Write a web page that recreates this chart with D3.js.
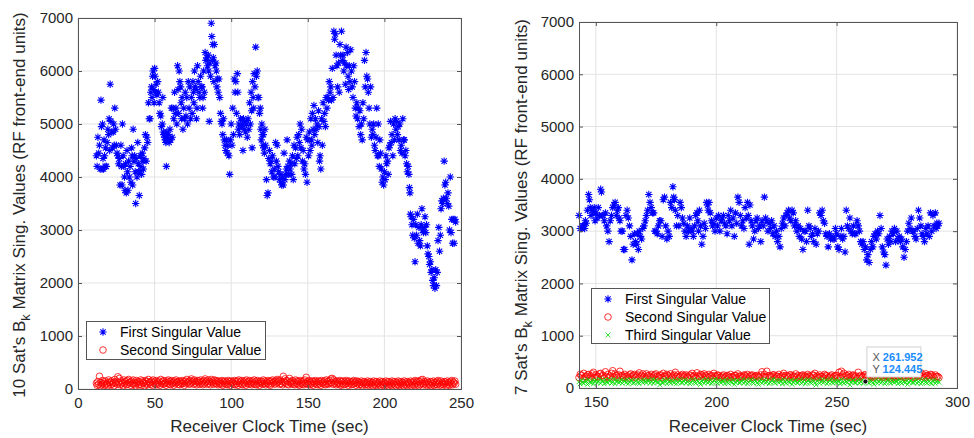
<!DOCTYPE html>
<html>
<head>
<meta charset="utf-8">
<script src="https://cdn.jsdelivr.net/npm/d3@7"></script>
<style>
body { margin: 0; background: #fff; }
text { font-family: "Liberation Sans", Arial, Helvetica, sans-serif; }
</style>
</head>
<body>
<svg id="chart"></svg>
<script>
// Data: each group is [second, value, value, ...]; values are spread across that second
const leftXTicks = [0, 50, 100, 150, 200, 250];
const rightXTicks = [150, 200, 250, 300];
const yTicks = [0, 1000, 2000, 3000, 4000, 5000, 6000, 7000];
const leftLegend = ["First Singular Value", "Second Singular Value"];
const rightLegend = ["First Singular Value", "Second Singular Value", "Third Singular Value"];
const dataTip = { x: 261.952, y: 124.445 };

const leftFirst = [
  [12,4400,4200],[13,4750,4450],[14,4600,4150],[15,5450,4950,4150],[16,5000,4350,4150],[17,4700,4400,4200],
  [18,4550,4200],[19,4650,4900],[20,4800,5100,4500],[21,5750,5050],[22,4850,4550],[23,4850,5000,4600],
  [24,5300,4900],[25,4600,4450],[26,4400,4250],[27,4350,3850],[28,4600,4200,3850],[29,5000,4400],
  [30,4200,4000,3750],[31,4250,3700],[32,4500,4100,3750],[33,4300,4000],[34,4200,3900],[35,4550,4400,3850],
  [36,4900,4300],[37,4400,4100,3500],[38,4350,4000],[39,4650,4250,4100],[40,3650,4100,4400],[41,4200,4050],
  [42,4450,4300,4150],[43,4350,4550],[44,4800,4300],[45,4750,4650],[46,5400,5100],[47,5100,5600],
  [48,5700,5500,5900],[49,6000,5650,5400],[50,6050,5900,5600],[51,5750,5550],[52,5800,5600],[53,5400,5200],
  [54,5150,4950],[55,5000,5500,4850],[56,4800,4750],[57,4700,4650,4200],[58,4850,4750],[59,4800,4650],
  [60,4900,4700],[61,5300,4750],[62,5300,5100],[63,5600,5200],[64,5300,5000],[65,6100,5650,5200],
  [66,6000,5800],[67,5700,5400,5100],[68,5500,4900],[69,5300,5100],[70,5600,5150],[71,5500,5000],
  [72,5800,5300],[73,5700,5100],[74,5500,5200],[75,5800,5600,5400],[76,6000,5700],[77,5650,5100,5300],
  [78,6100,5800],[79,5600,5500],[80,5900,5700],[81,5700,5300,5500],[82,6000,5600],[83,6350,6200],
  [84,6250,6100],[85,6300,6000,5050],[86,6150,5900],[87,6900,6650,6200],[88,6500,6250,5800],[89,6500,6100],
  [90,6150,6000,5700],[91,5850,5600],[92,5850,5500],[93,5200,5050],[94,5000,4800],[95,5100,4700],
  [96,4600,4500],[97,4700,4450],[98,4600,4400],[99,4050,4700],[100,5000,4600],[101,5300,4800],
  [102,5850,5600],[103,5800,5200],[104,5950,5600,4900],[105,5000,4800],[106,5100,4950],[107,4950,5000,4500],
  [108,5100,4900],[109,5050,4850],[110,5000,4750],[111,5100,4900],[112,5400,5000],[113,5600,5250,4550],
  [114,5800,5500,5300],[115,5950,5700],[116,6450,5900],[117,6000,5500],[118,5500,5200],[119,5300,4900,4700],
  [120,5000,4800,4600],[121,4800,4550,4450],[122,4900,4600],[123,3950,3650],[124,3700,4350],[125,4500,4250],
  [126,4300,4100],[127,4400,4000],[128,4150,4000],[129,4650,4300],[130,4600,4200],[131,4100,3950],
  [132,4050,3900],[133,3850,4000],[134,3850,4450],[135,3950,4050],[136,4150,4700],[137,4200,4050],
  [138,4300,4150],[139,4250,4050],[140,4400,3950],[141,4600,4250],[142,4550,4350],[143,4750,4400],
  [144,4800,4650],[145,5000,4550],[146,4900,4300],[147,4500,4150],[148,4250,4050],[149,4750,3900],
  [150,4700,4400],[151,4850,4500],[152,5100,4700,4600],[153,5200,4900],[154,5350,4800],[155,5100,4900],
  [156,5000,4650],[157,5250,4950,4300],[158,4400,4150],[159,5100,4600],[160,5400,5050],[161,5200,4950],
  [162,5500,5300],[163,5500,5450],[164,5800,5600],[165,5700,5450],[166,6050,5500],[167,6750,6600],
  [168,6700,6300],[169,6100,5700],[170,6150,5600],[171,6500,6300],[172,6750,6200],[173,6300,6000],
  [174,6150,5750],[175,6450,6100],[176,6350,5900,5650],[177,6100,5800],[178,6400,6000],[179,5700,5500],
  [180,6100,5800],[181,5300,5150],[182,5400,5100],[183,5300,4950],[184,5250,4800],[185,5000,4700],
  [186,5400,5100],[187,6200,5700],[188,6350,5900],[189,5850,5600],[190,5300,5000],[191,5700,4750],
  [192,4900,4800],[193,5000,4600],[194,4500,4750],[195,5300,4400],[196,5000,4400,4200],[197,4700,4450],
  [198,4150,3900],[199,4000,3850],[200,4100,3950],[201,4400,4250],[202,4300,4050],[203,4550,4600],
  [204,5050,4650],[205,4800,4400],[206,5000,4700],[207,5100,4900],[208,5050,4800],[209,4950,4700],
  [210,5000,4500],[211,4600,4450],[212,5100,4700],[213,4700,4400],[214,4500,4250],[215,4100,4200],
  [216,4050,3800,3700],[217,3300,3250],[218,3100,2900],[219,3200,2850],[220,2400,3100],[221,2900,3300],
  [222,2750,3050],[223,2800,2700],[224,3100,3400],[225,3000,2950],[226,3050,3250],[227,2950,3100],
  [228,2700,2550],[229,2500,2350],[230,2400,2200],[231,2250,2050],[232,1950,2100],[233,1900,2250],
  [234,1950,2200],[235,2800,3050],[236,2600,2900],[237,3400,3550],[238,3500,3600],[239,4300,3850],
  [240,3900,3600],[241,3500,3700],[242,3450,3000],[243,4000,2950],[244,3200,2750],[245,3200,2750],
  [246,3200,3150]
];

const leftSecond = [
  [12,110,70],[13,140,90],[14,240,60],[15,120,80],[16,160,100],[17,130,70],[18,150,90],[19,110,60],
  [20,170,120],[21,130,80],[22,150,100],[23,120,60],[24,180,110],[25,140,90],[26,230,120],[27,200,80],
  [28,150,100],[29,120,60],[30,170,110],[31,140,80],[32,160,90],[33,180,120],[34,130,70],[35,150,100],
  [36,170,90],[37,120,60],[38,160,110],[39,140,80],[40,130,90],[41,170,70],[42,150,110],[43,120,60],
  [44,160,100],[45,140,80],[46,180,120],[47,130,90],[48,150,70],[49,170,110],[50,140,90],[51,160,80],
  [52,130,100],[53,150,70],[54,180,110],[55,140,90],[56,160,100],[57,120,70],[58,150,110],[59,170,90],
  [60,140,80],[61,160,110],[62,130,70],[63,150,100],[64,170,120],[65,140,90],[66,150,80],[67,130,100],
  [68,160,110],[69,140,70],[70,150,100],[71,180,120],[72,140,90],[73,160,100],[74,190,130],[75,150,90],
  [76,170,110],[77,140,80],[78,160,120],[79,150,90],[80,170,110],[81,140,80],[82,160,100],[83,190,130],
  [84,150,90],[85,170,110],[86,140,80],[87,180,120],[88,150,90],[89,170,110],[90,160,100],[91,140,80],
  [92,150,100],[93,130,90],[94,160,70],[95,140,110],[96,150,90],[97,130,80],[98,160,100],[99,140,70],
  [100,150,110],[101,130,90],[102,160,80],[103,140,100],[104,150,70],[105,170,110],[106,140,90],[107,160,80],
  [108,130,100],[109,150,70],[110,170,110],[111,140,90],[112,160,100],[113,130,80],[114,150,110],[115,170,90],
  [116,140,80],[117,160,100],[118,130,70],[119,150,110],[120,140,90],[121,170,100],[122,150,80],[123,130,110],
  [124,160,90],[125,140,70],[126,150,100],[127,170,120],[128,140,90],[129,160,110],[130,180,130],[131,150,90],
  [132,170,100],[133,140,80],[134,240,130],[135,190,110],[136,160,90],[137,150,80],[138,200,120],[139,140,100],
  [140,160,90],[141,130,80],[142,170,110],[143,150,90],[144,140,70],[145,160,100],[146,130,90],[147,150,80],
  [148,170,110],[149,220,100],[150,140,90],[151,160,80],[152,130,100],[153,150,70],[154,140,110],[155,160,90],
  [156,130,80],[157,150,100],[158,140,70],[159,160,110],[160,130,90],[161,150,80],[162,170,100],[163,140,90],
  [164,160,110],[165,190,120],[166,200,90],[167,170,110],[168,140,80],[169,150,100],[170,130,90],[171,160,70],
  [172,140,100],[173,150,80],[174,130,90],[175,160,110],[176,140,70],[177,150,100],[178,130,80],[179,140,90],
  [180,160,110],[181,130,70],[182,150,100],[183,140,80],[184,120,90],[185,150,60],[186,130,100],[187,140,80],
  [188,120,90],[189,150,70],[190,130,100],[191,140,80],[192,120,60],[193,150,90],[194,130,70],[195,140,100],
  [196,120,80],[197,150,60],[198,130,90],[199,140,70],[200,120,100],[201,150,80],[202,130,60],[203,140,90],
  [204,120,70],[205,150,100],[206,130,80],[207,140,60],[208,120,90],[209,150,70],[210,130,100],[211,140,80],
  [212,120,60],[213,150,90],[214,130,70],[215,140,100],[216,120,80],[217,150,60],[218,130,90],[219,140,70],
  [220,160,100],[221,130,80],[222,150,60],[223,140,90],[224,170,110],[225,180,80],[226,140,100],[227,130,70],
  [228,150,90],[229,120,80],[230,140,60],[231,130,100],[232,150,70],[233,120,90],[234,140,80],[235,160,100],
  [236,130,70],[237,150,90],[238,120,80],[239,140,100],[240,130,60],[241,150,90],[242,120,70],[243,140,100],
  [244,160,80],[245,130,110],[246,150,90]
];

const rightFirst = [
  [143,3300,3050],[144,3050,3100],[145,3100,3050,3200],[146,3150,3400],[147,3700,3600,3450],[148,3300,3400],
  [149,3350,3450,3200],[150,3350,3250],[151,3450,3300],[152,3800,3750,3300],[153,3300,3200],[154,3350,3100],
  [155,3000,2800],[156,3200,3300],[157,3450,3500],[158,3550,3300],[159,3400,3450,3250],[160,3200,3000],
  [161,3000,2650],[162,2650,3300],[163,3400,3250],[164,3100,2900],[165,2450,2750],[166,2950,2800],
  [167,2750,2950,2650],[168,3000,2900],[169,2850,3050],[170,3100,3200],[171,3300,3400],[172,3700,3550],
  [173,3450,3350],[174,3350,3000],[175,3000,2950],[176,3100,3200],[177,3200,2900],[178,3600,3650],
  [179,3100,2850],[180,3000,2900],[181,3550,3450],[182,3850,3650,3600],[183,3400,3100],[184,3300,3100],
  [185,3550,3450],[186,3250,3150],[187,3000,2900],[188,3100,3000],[189,3250,3050],[190,3000,2900],
  [191,3100,3300],[192,3350,3200,3000],[193,3400,3100],[194,2750,2900],[195,3150,3050],[196,3550,3500,3400],
  [197,3550,3350],[198,3200,3100],[199,3150,3000],[200,3250,3100],[201,3300,3000],[202,3200,3250],
  [203,3300,3150],[204,3100,2950],[205,3300,3200],[206,3400,3100],[207,3250,2900],[208,3350,3150],
  [209,3650,3550],[210,3300,3100],[211,3200,3050],[212,3450,3250],[213,3550,3300,2750],[214,3500,3200],
  [215,3100,2850],[216,3000,3200],[217,3250,3050],[218,3100,2800],[219,3200,3100],[220,3650,3250],
  [221,3200,3000],[222,3150,3050],[223,3200,2950],[224,3100,2900],[225,3000,2800],[226,2900,2700],
  [227,3050,3150],[228,3250,3100],[229,3300,3350],[230,3400,3250],[231,3200,3400],[232,3350,3100],
  [233,3200,3000],[234,3100,2900],[235,3050,2850],[236,2650,3000],[237,3000,2800],[238,3400,3100],
  [239,3050,2900],[240,2950,2800],[241,3050,2750],[242,2950,3000],[243,3350,3300],[244,3400,3200],
  [245,3150,2950],[246,2900,2700],[247,2950,2850],[248,2900,2850],[249,2850,3050],[250,2950,2700],
  [251,2650,2900],[252,3050,2850],[253,2900,2600],[254,3400,3100],[255,3050,3250],[256,3000,2950],
  [257,3100,2950],[258,2950,3200],[259,3100,3000],[260,2800,2750],[261,2800,2650],[262,2700,2450],
  [263,2550,2400],[264,2650,2800],[265,2700,2900],[266,2950,2850],[267,3000,2950],[268,3300,3050],
  [269,2700,2600],[270,2550,2350],[271,2850,2750],[272,2900,2800],[273,3000,2950],[274,3050,2800],
  [275,3000,2850],[276,2900,2800],[277,2850,2700],[278,2500,2650],[279,2800,3000],[280,3150,3050],
  [281,3250,3000],[282,3000,2900],[283,2850,3050],[284,3400,3250],[285,3100,2950],[286,2900,2800],
  [287,3050,2950],[288,3100,2900],[289,3350,3000],[290,3300,3100],[291,3350,3050,3150],[292,3100,3150]
];

const rightSecond = [
  [143,200,260],[144,240,180],[145,280,210],[146,220,250],[147,260,190],[148,230,270],[149,300,200],[150,250,220],
  [151,210,270],[152,280,230],[153,240,190],[154,310,220],[155,260,200],[156,230,280],[157,330,210],[158,270,240],
  [159,200,250],[160,320,230],[161,240,200],[162,260,220],[163,230,190],[164,250,270],[165,210,240],[166,260,200],
  [167,230,250],[168,290,210],[169,240,270],[170,220,190],[171,270,230],[172,240,210],[173,260,200],[174,230,250],
  [175,270,220],[176,210,240],[177,250,200],[178,280,230],[179,220,260],[180,240,210],[181,270,190],[182,230,250],
  [183,300,220],[184,250,200],[185,220,240],[186,260,210],[187,230,250],[188,210,190],[189,250,230],[190,280,220],
  [191,240,200],[192,290,230],[193,220,260],[194,250,210],[195,270,240],[196,230,200],[197,260,220],[198,240,190],
  [199,280,230],[200,220,250],[201,240,200],[202,210,230],[203,250,190],[204,220,240],[205,230,200],[206,260,210],
  [207,210,240],[208,240,190],[209,270,220],[210,230,200],[211,220,250],[212,240,210],[213,260,190],[214,230,240],
  [215,250,200],[216,220,230],[217,240,210],[218,210,250],[219,310,220],[220,260,200],[221,320,230],[222,240,210],
  [223,220,250],[224,250,190],[225,230,220],[226,260,200],[227,220,240],[228,280,210],[229,240,230],[230,210,250],
  [231,250,200],[232,230,220],[233,270,210],[234,240,190],[235,220,240],[236,250,210],[237,230,200],[238,260,230],
  [239,220,190],[240,250,240],[241,280,210],[242,230,200],[243,250,220],[244,220,190],[245,260,240],[246,230,200],
  [247,210,230],[248,250,190],[249,220,240],[250,240,200],[251,300,220],[252,320,250],[253,280,210],[254,240,230],
  [255,260,200],[256,220,240],[257,250,210],[258,230,190],[259,300,220],[260,240,200],[261,220,250],[262,250,210],
  [263,230,190],[264,260,220],[265,240,200],[266,220,250],[267,250,210],[268,270,230],[269,230,200],[270,250,240],
  [271,220,210],[272,240,190],[273,260,230],[274,230,200],[275,250,220],[276,220,240],[277,270,210],[278,240,200],
  [279,260,230],[280,230,250],[281,280,210],[282,240,200],[283,260,230],[284,230,250],[285,290,220],[286,250,200],
  [287,270,230],[288,240,210],[289,260,250],[290,230,200],[291,250,220],[292,220,200]
];

const rightThird = [
  [143,120,80],[144,150,100],[145,90,140],[146,130,70],[147,160,110],[148,100,140],[149,80,130],[150,150,100],
  [151,120,170],[152,90,140],[153,130,80],[154,160,110],[155,100,150],[156,140,90],[157,110,170],[158,80,130],
  [159,150,100],[160,120,160],[161,90,140],[162,130,100],[163,160,80],[164,110,150],[165,140,90],[166,100,130],
  [167,150,110],[168,80,140],[169,130,100],[170,160,120],[171,100,150],[172,140,90],[173,120,170],[174,90,130],
  [175,150,110],[176,110,60],[177,140,100],[178,100,160],[179,130,80],[180,160,120],[181,90,140],[182,120,100],
  [183,150,80],[184,110,160],[185,140,100],[186,100,130],[187,160,90],[188,120,140],[189,80,110],[190,140,160],
  [191,110,90],[192,150,130],[193,100,70],[194,130,160],[195,90,120],[196,160,100],[197,120,150],[198,80,110],
  [199,140,170],[200,110,90],[201,150,120],[202,100,140],[203,130,80],[204,160,110],[205,90,150],[206,120,100],
  [207,150,70],[208,110,140],[209,140,100],[210,100,130],[211,160,90],[212,120,150],[213,80,110],[214,140,160],
  [215,110,90],[216,150,130],[217,100,70],[218,130,160],[219,90,120],[220,160,100],[221,120,150],[222,80,110],
  [223,140,170],[224,110,90],[225,150,120],[226,100,140],[227,130,80],[228,160,110],[229,90,150],[230,120,100],
  [231,150,70],[232,110,140],[233,140,100],[234,100,130],[235,160,90],[236,120,150],[237,80,110],[238,140,160],
  [239,110,90],[240,150,130],[241,100,60],[242,130,160],[243,90,120],[244,160,100],[245,120,150],[246,80,110],
  [247,140,170],[248,110,90],[249,150,120],[250,100,140],[251,130,80],[252,160,110],[253,90,150],[254,120,100],
  [255,150,60],[256,110,140],[257,140,100],[258,100,130],[259,160,90],[260,120,150],[261,90,110],[262,140,120],
  [263,110,90],[264,150,130],[265,100,70],[266,130,160],[267,90,120],[268,160,100],[269,120,150],[270,80,110],
  [271,140,170],[272,110,90],[273,150,120],[274,100,140],[275,130,80],[276,160,110],[277,90,150],[278,120,100],
  [279,150,70],[280,110,140],[281,140,100],[282,100,130],[283,160,90],[284,120,150],[285,80,110],[286,140,160],
  [287,110,90],[288,150,130],[289,100,80],[290,130,160],[291,90,120],[292,140,110]
];

const width = 974;
const height = 438;
const svg = d3.select("#chart").attr("width", width).attr("height", height);

const axisColor = "#262626";
const font = '"Liberation Sans", Arial, Helvetica, sans-serif';

// turn [second, v, v, ...] groups into [time, value] points
function spread(groups) {
  const pts = [];
  groups.forEach(([t, ...vals]) => {
    vals.forEach((v, i) => pts.push([t + i / vals.length, v]));
  });
  return pts;
}

function starPath(r) {
  const a = r * 0.72;
  return `M${-r},0H${r}M0,${-r}V${r}M${-a},${-a}L${a},${a}M${-a},${a}L${a},${-a}`;
}
function crossPath(r) {
  return `M${-r},${-r}L${r},${r}M${-r},${r}L${r},${-r}`;
}

const markers = {
  star: (g) => g.append("path").attr("d", starPath(3.7)).attr("stroke", "#0000ff").attr("stroke-width", 1.1).attr("fill", "none"),
  circle: (g) => g.append("circle").attr("r", 3.3).attr("stroke", "#ff0000").attr("stroke-width", 0.8).attr("fill", "none"),
  cross: (g) => g.append("path").attr("d", crossPath(2.4)).attr("stroke", "#00e000").attr("stroke-width", 0.8).attr("fill", "none")
};

function drawPanel(cfg) {
  const x = d3.scaleLinear().domain(cfg.xDomain).range([cfg.left, cfg.right]);
  const y = d3.scaleLinear().domain([0, 7000]).range([cfg.bottom, cfg.top]);
  const g = svg.append("g");

  // grid
  g.append("g").selectAll("line.gx").data(cfg.xTicks).enter().append("line")
    .attr("x1", d => x(d)).attr("x2", d => x(d))
    .attr("y1", cfg.top).attr("y2", cfg.bottom)
    .attr("stroke", "#e3e3e3").attr("stroke-width", 1);
  g.append("g").selectAll("line.gy").data(yTicks).enter().append("line")
    .attr("x1", cfg.left).attr("x2", cfg.right)
    .attr("y1", d => y(d)).attr("y2", d => y(d))
    .attr("stroke", "#e3e3e3").attr("stroke-width", 1);

  // series
  const plot = g.append("g");
  cfg.series.forEach(s => {
    const pts = spread(s.data);
    pts.forEach(p => {
      const m = markers[s.marker](plot);
      m.attr("transform", `translate(${x(p[0])},${y(p[1])})`);
    });
  });

  // axes
  const fmt = d3.format("d");
  const xAxis = g.append("g").attr("transform", `translate(0,${cfg.bottom})`)
    .call(d3.axisBottom(x).tickValues(cfg.xTicks).tickFormat(fmt).tickSizeInner(-4).tickSizeOuter(0).tickPadding(8));
  const xAxisTop = g.append("g").attr("transform", `translate(0,${cfg.top})`)
    .call(d3.axisTop(x).tickValues(cfg.xTicks).tickSizeInner(-4).tickSizeOuter(0).tickFormat(""));
  const yAxis = g.append("g").attr("transform", `translate(${cfg.left},0)`)
    .call(d3.axisLeft(y).tickValues(yTicks).tickFormat(fmt).tickSizeInner(-4).tickSizeOuter(0).tickPadding(5));
  const yAxisRight = g.append("g").attr("transform", `translate(${cfg.right},0)`)
    .call(d3.axisRight(y).tickValues(yTicks).tickSizeInner(-4).tickSizeOuter(0).tickFormat(""));
  [xAxis, xAxisTop, yAxis, yAxisRight].forEach(a => {
    a.select(".domain").remove();
    a.selectAll("line").attr("stroke", "#555");
    a.selectAll("text").attr("fill", axisColor).style("font-size", "15px").style("font-family", font);
  });
  g.append("rect")
    .attr("x", cfg.left + 0.5).attr("y", cfg.top + 0.5)
    .attr("width", cfg.right - cfg.left).attr("height", cfg.bottom - cfg.top)
    .attr("fill", "none").attr("stroke", "#555").attr("stroke-width", 1);

  // labels
  g.append("text")
    .attr("x", (cfg.left + cfg.right) / 2).attr("y", 432)
    .attr("text-anchor", "middle").attr("fill", axisColor)
    .style("font-size", "17px")
    .text("Receiver Clock Time (sec)");

  const yl = g.append("text")
    .attr("transform", `translate(${cfg.yLabelX},${cfg.yLabelY}) rotate(-90)`)
    .attr("text-anchor", "middle").attr("fill", axisColor)
    .style("font-size", "17px");
  yl.append("tspan").text(cfg.satCount + " Sat's B");
  yl.append("tspan").attr("dy", 5).style("font-size", "13px").text("k");
  yl.append("tspan").attr("dy", -5).text(" Matrix Sing. Values (RF front-end units)");

  // legend
  const lg = g.append("g");
  lg.append("rect")
    .attr("x", cfg.legend.x + 0.5).attr("y", cfg.legend.y + 0.5)
    .attr("width", cfg.legend.w).attr("height", cfg.legend.h)
    .attr("fill", "#fff").attr("stroke", "#555").attr("stroke-width", 1);
  cfg.legendItems.forEach((label, i) => {
    const cy = cfg.legend.y + 11 + i * 18;
    const m = markers[cfg.series[i].marker](lg);
    m.attr("transform", `translate(${cfg.legend.x + 17},${cy})`);
    lg.append("text")
      .attr("x", cfg.legend.x + 34).attr("y", cy + 5)
      .attr("fill", "#000").style("font-size", "14px")
      .text(label);
  });

  return { x, y, g };
}

drawPanel({
  left: 78, right: 461, top: 18, bottom: 389,
  xDomain: [0, 250], xTicks: leftXTicks,
  yLabelX: 25, yLabelY: 205, satCount: 10,
  legend: { x: 86, y: 321, w: 179, h: 38 },
  legendItems: leftLegend,
  series: [
    { data: leftFirst, marker: "star" },
    { data: leftSecond, marker: "circle" }
  ]
});

const right = drawPanel({
  left: 579, right: 957, top: 22, bottom: 388,
  xDomain: [143, 300], xTicks: rightXTicks,
  yLabelX: 527, yLabelY: 207, satCount: 7,
  legend: { x: 591, y: 288, w: 178, h: 55 },
  legendItems: rightLegend,
  series: [
    { data: rightFirst, marker: "star" },
    { data: rightSecond, marker: "circle" },
    { data: rightThird, marker: "cross" }
  ]
});

// data tip
const tx = right.x(dataTip.x);
const ty = right.y(dataTip.y);
const tip = right.g.append("g");
tip.append("rect")
  .attr("x", tx + 1.5).attr("y", ty - 34.5)
  .attr("width", 54).attr("height", 30)
  .attr("fill", "#fff").attr("stroke", "#d0d0d0").attr("stroke-width", 1);
[["X", dataTip.x.toFixed(3)], ["Y", dataTip.y.toFixed(3)]].forEach(([k, v], i) => {
  const t = tip.append("text")
    .attr("x", tx + 7).attr("y", ty - 20 + i * 12)
    .style("font-size", "11px");
  t.append("tspan").attr("fill", "#555").text(k + " ");
  t.append("tspan").attr("fill", "#1a8cff").style("font-weight", "bold").text(v);
});
tip.append("circle")
  .attr("cx", tx).attr("cy", ty).attr("r", 2.5)
  .attr("fill", "#111").attr("stroke", "#fff").attr("stroke-width", 0.8);
</script>
</body>
</html>
